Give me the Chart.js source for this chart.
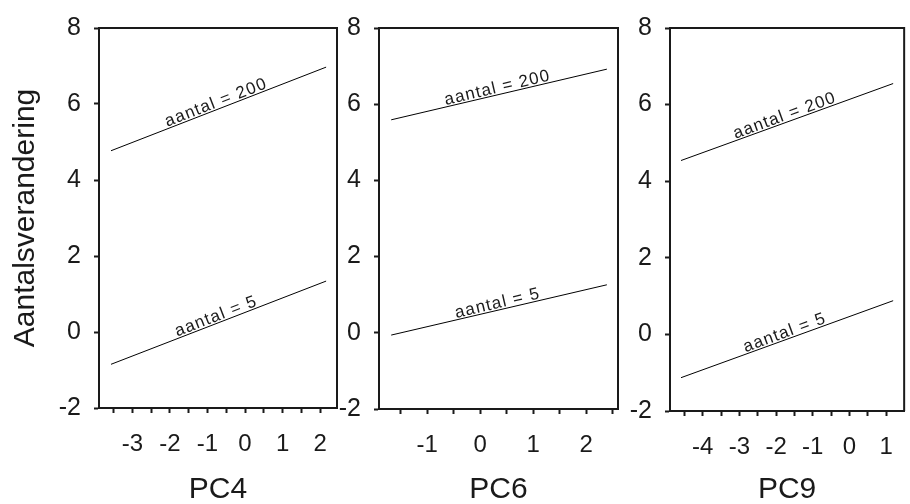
<!DOCTYPE html>
<html>
<head>
<meta charset="utf-8">
<script src="https://cdn.jsdelivr.net/npm/chart.js@4"></script>
<style>
  html, body { margin: 0; padding: 0; background: #fff; }
  #wrap { position: relative; width: 910px; height: 504px; }
  #wrap canvas { position: absolute; left: 0; top: 0; }
</style>
</head>
<body>
<div id="wrap">
  <canvas id="pc4" width="910" height="504"></canvas>
  <canvas id="pc6" width="910" height="504"></canvas>
  <canvas id="pc9" width="910" height="504"></canvas>
</div>
<script>
// ---- data ----
const yRange = [-2, 8];
const yTitle = 'Aantalsverandering';
const lineNames = ['aantal = 200', 'aantal = 5'];

const pc4Range = [-3.89, 2.45];
const pc4Ticks = [-3.5, -3, -2.5, -2, -1.5, -1, -0.5, 0, 0.5, 1, 1.5, 2];
const pc4X = [-3.57, 2.16];
const pc4High = [4.77, 6.97];
const pc4Low = [-0.85, 1.34];

const pc6Range = [-1.91, 2.6];
const pc6Ticks = [-1.5, -1, -0.5, 0, 0.5, 1, 1.5, 2, 2.5];
const pc6X = [-1.68, 2.39];
const pc6High = [5.59, 6.92];
const pc6Low = [-0.06, 1.26];

const pc9Range = [-4.89, 1.49];
const pc9Ticks = [-4.5, -4, -3.5, -3, -2.5, -2, -1.5, -1, -0.5, 0, 0.5, 1];
const pc9X = [-4.59, 1.19];
const pc9High = [4.54, 6.55];
const pc9Low = [-1.13, 0.88];

const FONT = '"Liberation Sans", Arial, sans-serif';
const INK = '#1a1a1a';
const W = 910, H = 504;

// top + right edges of each box
const boxFrame = {
  id: 'boxFrame',
  afterDraw(chart) {
    const { ctx, chartArea: a } = chart;
    ctx.save();
    ctx.strokeStyle = INK;
    ctx.lineWidth = 2;
    ctx.beginPath();
    ctx.moveTo(a.left, a.top);
    ctx.lineTo(a.right, a.top);
    ctx.lineTo(a.right, a.bottom);
    ctx.stroke();
    ctx.restore();
  }
};

// "aantal = ..." written along each line
const lineLabels = {
  id: 'lineLabels',
  afterDatasetsDraw(chart) {
    const ctx = chart.ctx;
    chart.data.datasets.forEach((ds, i) => {
      const pts = chart.getDatasetMeta(i).data;
      const a = pts[0], b = pts[pts.length - 1];
      ctx.save();
      ctx.translate((a.x + b.x) / 2, (a.y + b.y) / 2);
      ctx.rotate(Math.atan2(b.y - a.y, b.x - a.x));
      ctx.font = '17px ' + FONT;
      ctx.letterSpacing = '1.2px';
      ctx.fillStyle = INK;
      ctx.textAlign = 'center';
      ctx.textBaseline = 'alphabetic';
      ctx.fillText(ds.label, 0, -2);
      ctx.restore();
    });
  }
};

function makePanel(id, name, xs, hi, lo, range, ticks, box, withYTitle) {
  const yW = withYTitle ? 99 : 60;
  return new Chart(document.getElementById(id), {
    type: 'line',
    data: {
      datasets: [
        { label: lineNames[0], data: xs.map((x, i) => ({ x, y: hi[i] })) },
        { label: lineNames[1], data: xs.map((x, i) => ({ x, y: lo[i] })) }
      ]
    },
    options: {
      responsive: false,
      animation: false,
      events: [],
      layout: { padding: { left: box.left - yW, top: box.top, right: W - box.right, bottom: 0 } },
      elements: {
        line: { borderColor: '#000', borderWidth: 1, tension: 0 },
        point: { radius: 0 }
      },
      plugins: { legend: { display: false }, tooltip: { enabled: false } },
      scales: {
        x: {
          type: 'linear',
          min: range[0], max: range[1],
          afterBuildTicks: s => { s.ticks = ticks.map(v => ({ value: v })); },
          afterFit: s => { s.height = H - box.bottom; },
          ticks: {
            autoSkip: false, maxRotation: 0, padding: 17, color: INK,
            font: { family: FONT, size: 24 },
            callback: v => Number.isInteger(v) ? String(v) : ''
          },
          grid: { drawOnChartArea: false, tickLength: 5, tickWidth: 2, tickColor: INK },
          border: { display: true, color: INK, width: 2 },
          title: { display: true, text: name, color: INK, font: { family: FONT, size: 30 }, padding: { top: 0, bottom: -4 } }
        },
        y: {
          min: yRange[0], max: yRange[1],
          afterFit: s => { s.width = yW; },
          ticks: {
            stepSize: 2, padding: 13, color: INK,
            font: { family: FONT, size: 25 },
            callback: v => String(v)
          },
          grid: { drawOnChartArea: false, tickLength: 5, tickWidth: 2, tickColor: INK },
          border: { display: true, color: INK, width: 2 },
          title: {
            display: withYTitle, text: yTitle, color: INK,
            font: { family: FONT, size: 30 }, padding: { top: 8, bottom: 0 }
          }
        }
      }
    },
    plugins: [boxFrame, lineLabels]
  });
}

makePanel('pc4', 'PC4', pc4X, pc4High, pc4Low, pc4Range, pc4Ticks,
  { left: 99, top: 22, right: 337, bottom: 408 }, true);
makePanel('pc6', 'PC6', pc6X, pc6High, pc6Low, pc6Range, pc6Ticks,
  { left: 379, top: 24, right: 618, bottom: 409 }, false);
makePanel('pc9', 'PC9', pc9X, pc9High, pc9Low, pc9Range, pc9Ticks,
  { left: 670, top: 26, right: 908, bottom: 411 }, false);
</script>
</body>
</html>
